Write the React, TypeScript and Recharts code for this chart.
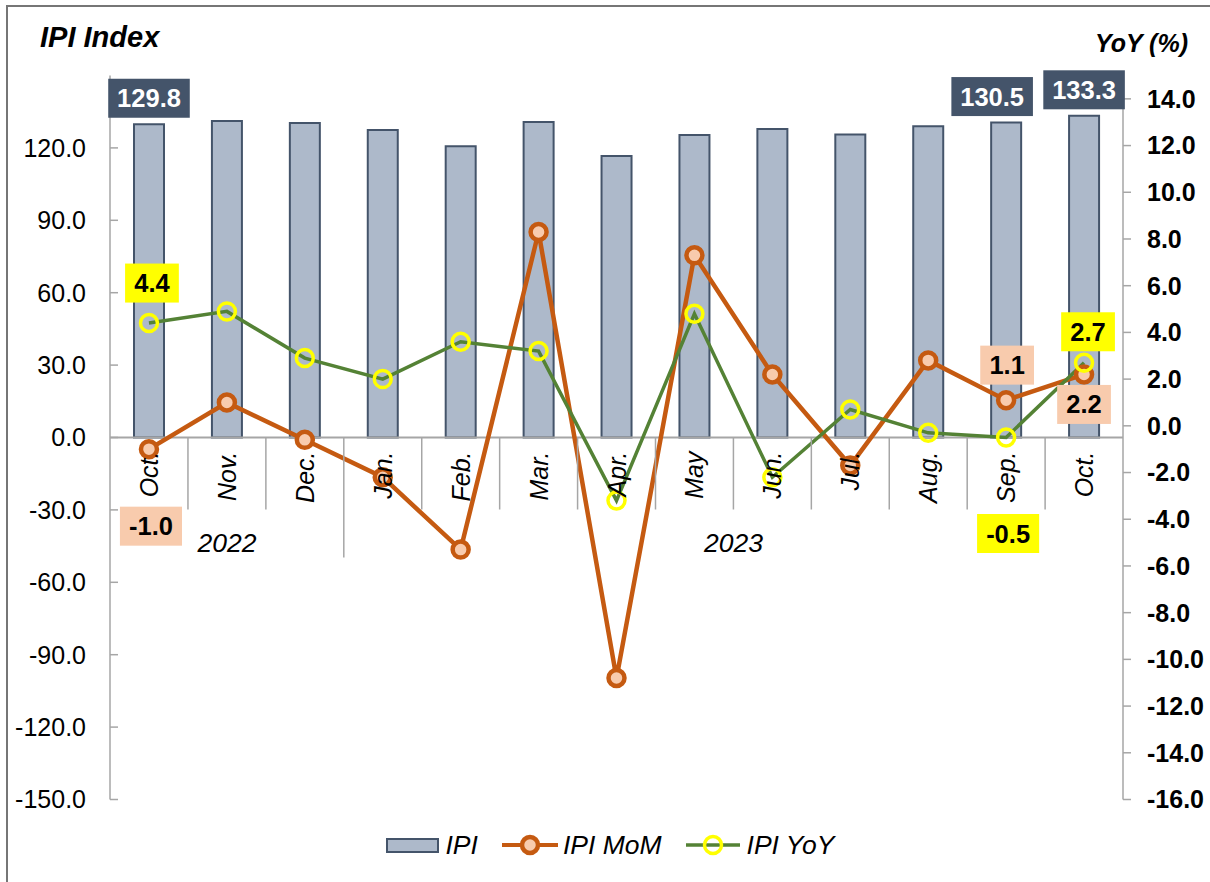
import React from "react";
import {
  ComposedChart,
  Bar,
  Line,
  XAxis,
  YAxis,
  ReferenceLine,
  LabelList,
  Legend,
} from "recharts";

const months = ["Oct.", "Nov.", "Dec.", "Jan.", "Feb.", "Mar.", "Apr.", "May", "Jun.", "Jul.", "Aug.", "Sep.", "Oct."];
const years = ["2022", "2022", "2022", "2023", "2023", "2023", "2023", "2023", "2023", "2023", "2023", "2023", "2023"];
const ipi = [129.8, 131.1, 130.3, 127.4, 120.7, 130.7, 116.6, 125.3, 127.8, 125.6, 129.0, 130.5, 133.3];
const ipiMoM = [-1.0, 1.0, -0.6, -2.2, -5.3, 8.3, -10.8, 7.3, 2.2, -1.7, 2.8, 1.1, 2.2];
const ipiYoY = [4.4, 4.9, 2.9, 2.0, 3.6, 3.2, -3.2, 4.8, -2.2, 0.7, -0.3, -0.5, 2.7];
const leftTicks = [-150, -120, -90, -60, -30, 0, 30, 60, 90, 120];
const rightTicks = [-16, -14, -12, -10, -8, -6, -4, -2, 0, 2, 4, 6, 8, 10, 12, 14];

const data = months.map((m, i) => ({
  key: i,
  month: m,
  year: years[i],
  ipi: ipi[i],
  mom: ipiMoM[i],
  yoy: ipiYoY[i],
}));

const FONT = '"Liberation Sans", Arial, sans-serif';
const W = 1210;
const H = 882;
const PLOT_LEFT = 110;
const PLOT_RIGHT = 1123;
const PLOT_TOP = 75.5;
const PLOT_BOTTOM = 799.5;
const LEFT_AXIS_W = 100;
const RIGHT_AXIS_W = 80;
const N = months.length;
const BAND = (PLOT_RIGHT - PLOT_LEFT) / N;
const AXIS_GRAY = "#a6a6a6";

// where the boxed data labels sit, relative to their point (dx, dy of box centre)
const barLabelPos: Record<number, [number, number]> = { 0: [0, -26], 11: [-14, -26], 12: [0, -26] };
const momLabelPos: Record<number, [number, number]> = { 0: [2, 77], 11: [1, -35], 12: [0, 30] };
const yoyLabelPos: Record<number, [number, number]> = { 0: [3, -40], 11: [2, 96], 12: [4, -31] };

const charW = (s: string) =>
  s.split("").reduce((acc, c) => acc + (c === "." ? 0.278 : c === "-" ? 0.333 : 0.556), 0) * 25;

function makeBoxLabel(
  values: number[],
  place: Record<number, [number, number]>,
  fill: string,
  color: string
) {
  return function BoxLabel(props: any) {
    const i = props.index;
    const pos = place[i];
    if (!pos) return null;
    const vb = props.viewBox ?? props;
    const px = vb.x + (vb.width ?? 0) / 2;
    const py = vb.y;
    const text = values[i].toFixed(1);
    const w = charW(text) + 19;
    const cx = px + pos[0];
    const cy = py + pos[1];
    return (
      <g>
        <rect x={cx - w / 2} y={cy - 19.5} width={w} height={39} fill={fill} />
        <text
          x={cx}
          y={cy + 9}
          textAnchor="middle"
          fontWeight="bold"
          fontSize={25.5}
          fill={color}
          fontFamily={FONT}
        >
          {text}
        </text>
      </g>
    );
  };
}

const BarValueLabel = makeBoxLabel(ipi, barLabelPos, "#44546a", "#ffffff");
const MomLabel = makeBoxLabel(ipiMoM, momLabelPos, "#f8cbad", "#000000");
const YoyLabel = makeBoxLabel(ipiYoY, yoyLabelPos, "#ffff00", "#000000");

const MomDot = (p: any) =>
  p.cx == null ? null : (
    <circle key={`m${p.index}`} cx={p.cx} cy={p.cy} r={8} fill="#f8cbad" stroke="#c55a11" strokeWidth={4.5} />
  );
const YoyDot = (p: any) =>
  p.cx == null ? null : (
    <circle key={`y${p.index}`} cx={p.cx} cy={p.cy} r={8.5} fill="none" stroke="#ffff00" strokeWidth={3.5} />
  );

function CategoryMark(props: any) {
  const vb = props.viewBox ?? props;
  const i = props.index;
  const cx = vb.x + vb.width / 2;
  const zeroY = vb.y + vb.height;
  const yearEnd = i < N - 1 && years[i] !== years[i + 1];
  const firstOfYear = i === 0 || years[i - 1] !== years[i];
  let yearEl = null;
  if (firstOfYear) {
    let j = i;
    while (j + 1 < N && years[j + 1] === years[i]) j++;
    yearEl = (
      <text
        x={cx + ((j - i) / 2) * BAND}
        y={zeroY + 114}
        textAnchor="middle"
        fontStyle="italic"
        fontSize={26.5}
        fontFamily={FONT}
        fill="#000"
      >
        {years[i]}
      </text>
    );
  }
  const tx = cx + 9;
  const ty = zeroY + 14;
  return (
    <g>
      {i < N - 1 && (
        <line
          x1={cx + BAND / 2}
          x2={cx + BAND / 2}
          y1={zeroY}
          y2={zeroY + (yearEnd ? 120 : 72)}
          stroke={AXIS_GRAY}
          strokeWidth={1.5}
        />
      )}
      <text
        x={tx}
        y={ty}
        transform={`rotate(-90 ${tx} ${ty})`}
        textAnchor="end"
        fontStyle="italic"
        fontSize={25}
        fontFamily={FONT}
        fill="#000"
      >
        {months[i]}
      </text>
      {yearEl}
    </g>
  );
}

const renderLegend = () => (
  <div
    style={{
      display: "flex",
      justifyContent: "center",
      alignItems: "center",
      height: 34,
      fontFamily: FONT,
      fontStyle: "italic",
      fontSize: 26.5,
      color: "#000",
      paddingLeft: 10,
    }}
  >
    <span
      style={{
        display: "inline-block",
        width: 49,
        height: 11,
        background: "#adb9ca",
        border: "2px solid #44546a",
        marginRight: 7,
      }}
    />
    <span style={{ marginRight: 24 }}>IPI</span>
    <svg width={56} height={24} style={{ marginRight: 5 }}>
      <line x1={0} y1={12} x2={56} y2={12} stroke="#c55a11" strokeWidth={4} />
      <circle cx={28} cy={12} r={8} fill="#f8cbad" stroke="#c55a11" strokeWidth={4.5} />
    </svg>
    <span style={{ marginRight: 24 }}>IPI MoM</span>
    <svg width={54} height={24} style={{ marginRight: 7 }}>
      <line x1={0} y1={12} x2={54} y2={12} stroke="#548235" strokeWidth={3.5} />
      <circle cx={27} cy={12} r={8.5} fill="none" stroke="#ffff00" strokeWidth={3.5} />
    </svg>
    <span>IPI YoY</span>
  </div>
);

export default function App() {
  return (
    <div
      style={{
        position: "absolute",
        left: 0,
        top: 0,
        width: W,
        height: H,
        overflow: "hidden",
        background: "#fff",
      }}
    >
      <div
        style={{
          position: "absolute",
          left: 6,
          top: 5,
          width: W + 20,
          height: H + 20,
          border: "2px solid #767676",
        }}
      />
      <div style={{ position: "absolute", left: 0, top: 0 }}>
        <ComposedChart
          width={W}
          height={H}
          data={data}
          margin={{
            top: PLOT_TOP,
            bottom: H - PLOT_BOTTOM,
            left: PLOT_LEFT - LEFT_AXIS_W,
            right: W - PLOT_RIGHT - RIGHT_AXIS_W,
          }}
        >
          <XAxis dataKey="key" hide />
          <YAxis
            yAxisId="left"
            orientation="left"
            width={LEFT_AXIS_W}
            domain={[-150, 150]}
            ticks={leftTicks}
            interval={0}
            allowDataOverflow
            tickFormatter={(v: number) => v.toFixed(1)}
            tick={{ fill: "#000", fontSize: 25, fontFamily: FONT }}
            axisLine={{ stroke: AXIS_GRAY, strokeWidth: 1.5 }}
            tickLine={{ stroke: AXIS_GRAY, strokeWidth: 1.5 }}
            tickSize={-8}
            tickMargin={32}
          />
          <YAxis
            yAxisId="right"
            orientation="right"
            width={RIGHT_AXIS_W}
            domain={[-16, 15]}
            ticks={rightTicks}
            interval={0}
            allowDataOverflow
            tickFormatter={(v: number) => v.toFixed(1)}
            tick={{ fill: "#000", fontSize: 25, fontFamily: FONT, fontWeight: "bold" }}
            axisLine={{ stroke: AXIS_GRAY, strokeWidth: 1.5 }}
            tickLine={{ stroke: AXIS_GRAY, strokeWidth: 1.5 }}
            tickSize={8}
            tickMargin={16}
          />
          <ReferenceLine yAxisId="left" y={0} stroke={AXIS_GRAY} strokeWidth={2} />
          <Bar
            yAxisId="left"
            dataKey="ipi"
            barSize={30}
            fill="#adb9ca"
            stroke="#44546a"
            strokeWidth={2}
            isAnimationActive={false}
          >
            <LabelList dataKey="ipi" content={CategoryMark} />
            <LabelList dataKey="ipi" content={BarValueLabel} />
          </Bar>
          <Line
            yAxisId="right"
            type="linear"
            dataKey="mom"
            stroke="#c55a11"
            strokeWidth={4.5}
            dot={MomDot}
            activeDot={false}
            isAnimationActive={false}
          >
            <LabelList dataKey="mom" content={MomLabel} />
          </Line>
          <Line
            yAxisId="right"
            type="linear"
            dataKey="yoy"
            stroke="#548235"
            strokeWidth={3.5}
            dot={YoyDot}
            activeDot={false}
            isAnimationActive={false}
          >
            <LabelList dataKey="yoy" content={YoyLabel} />
          </Line>
          <Legend
            layout="horizontal"
            verticalAlign="middle"
            align="center"
            content={renderLegend}
            wrapperStyle={{ top: 828, left: 0, width: W, height: 34 }}
          />
        </ComposedChart>
      </div>
      <svg
        width={W}
        height={H}
        style={{ position: "absolute", left: 0, top: 0, pointerEvents: "none" }}
      >
        <text x={40} y={47} fontFamily={FONT} fontSize={29} fontWeight="bold" fontStyle="italic" fill="#000">
          IPI Index
        </text>
        <text
          x={1188}
          y={52}
          textAnchor="end"
          fontFamily={FONT}
          fontSize={25}
          fontWeight="bold"
          fontStyle="italic"
          fill="#000"
        >
          YoY (%)
        </text>
      </svg>
    </div>
  );
}
